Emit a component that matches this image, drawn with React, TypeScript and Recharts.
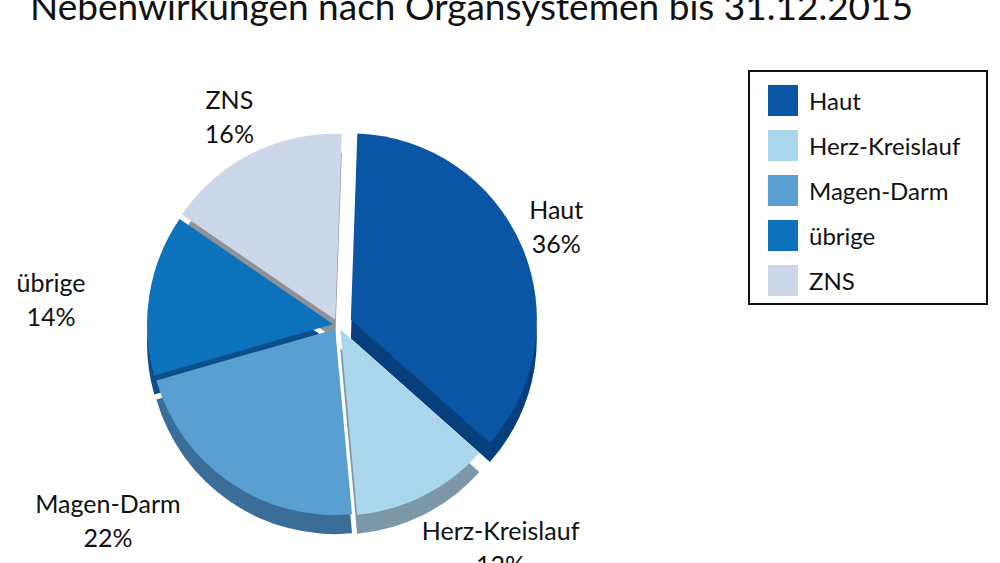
import { PieChart, Pie, Cell, Legend, Sector } from "recharts";

// Nebenwirkungen nach Organsystemen bis 31.12.2015
const categories = ["Haut", "Herz-Kreislauf", "Magen-Darm", "übrige", "ZNS"];
const shares = [36, 12, 22, 14, 16];

const topColors = ["#0b56a4", "#aad6ee", "#5a9fd2", "#0b72bb", "#cdd7ea"];
const sideColors = ["#073e7c", "#7c97a8", "#3a6e98", "#0a4f87", "#8f9297"];
const explode = [14, 5, 5, 5, 6];
// label nudges (x, y) relative to the default label spot
const labelNudge = [
  [5, -10],
  [58, 13],
  [-99, 2],
  [-58, 9],
  [-4, -4],
];

const data = categories.map((name, i) => ({ name, value: shares[i] }));
const RAD = Math.PI / 180;
const FONT = "Lato, 'Open Sans', sans-serif";

function explodedShape(props: any) {
  const idx = categories.indexOf(props.name ?? props.payload?.name);
  const d = idx >= 0 ? explode[idx] : 0;
  const dx = d * Math.cos(-props.midAngle * RAD);
  const dy = d * Math.sin(-props.midAngle * RAD);
  return <Sector {...props} cx={props.cx + dx} cy={props.cy + dy} />;
}

function renderLabel(props: any) {
  const { cx, cy, midAngle, index } = props;
  const r = 232;
  const x = cx + r * Math.cos(-midAngle * RAD) + labelNudge[index][0];
  const y = cy + r * Math.sin(-midAngle * RAD) + labelNudge[index][1];
  return (
    <text
      x={x}
      y={y}
      textAnchor="middle"
      fill="#111"
      fontFamily={FONT}
      fontSize={25}
    >
      <tspan x={x} dy={-5}>{categories[index]}</tspan>
      <tspan x={x} dy={34}>{shares[index]}%</tspan>
    </text>
  );
}

function LegendBox() {
  return (
    <div
      style={{
        border: "2px solid #111",
        width: 240,
        height: 235,
        boxSizing: "border-box",
        padding: "6px 0 0 18px",
        background: "#fff",
        fontFamily: FONT,
        fontSize: 24,
        color: "#111",
      }}
    >
      {categories.map((name, i) => (
        <div
          key={name}
          style={{ display: "flex", alignItems: "center", height: 45 }}
        >
          <span
            style={{
              display: "inline-block",
              width: 30,
              height: 31,
              background: topColors[i],
              marginRight: 11,
            }}
          />
          <span>{name}</span>
        </div>
      ))}
    </div>
  );
}

export default function App() {
  return (
    <div
      style={{
        position: "absolute",
        left: 0,
        top: 0,
        width: 1000,
        height: 563,
        background: "#fff",
        overflow: "hidden",
      }}
    >
      <div
        style={{
          position: "absolute",
          left: 30,
          top: -17,
          fontFamily: FONT,
          fontSize: 37,
          color: "#111",
          whiteSpace: "nowrap",
        }}
      >
        Nebenwirkungen nach Organsystemen bis 31.12.2015
      </div>
      <PieChart width={1000} height={563} margin={{ top: 0, right: 0, bottom: 0, left: 0 }}>
        <Pie
          data={data}
          dataKey="value"
          nameKey="name"
          cx={338}
          cy={344}
          outerRadius={186}
          startAngle={88}
          endAngle={-272}
          stroke="none"
          legendType="none"
          shape={explodedShape}
          isAnimationActive={false}
        >
          {data.map((d, i) => (
            <Cell key={d.name} fill={sideColors[i]} />
          ))}
        </Pie>
        <Pie
          data={data}
          dataKey="value"
          nameKey="name"
          cx={338}
          cy={325}
          outerRadius={186}
          startAngle={88}
          endAngle={-272}
          stroke="none"
          legendType="square"
          shape={explodedShape}
          label={renderLabel}
          labelLine={false}
          isAnimationActive={false}
        >
          {data.map((d, i) => (
            <Cell key={d.name} fill={topColors[i]} />
          ))}
        </Pie>
        <Legend
          layout="vertical"
          align="right"
          verticalAlign="top"
          content={LegendBox}
          wrapperStyle={{ position: "absolute", left: 748, top: 70, width: 240 }}
        />
      </PieChart>
    </div>
  );
}
